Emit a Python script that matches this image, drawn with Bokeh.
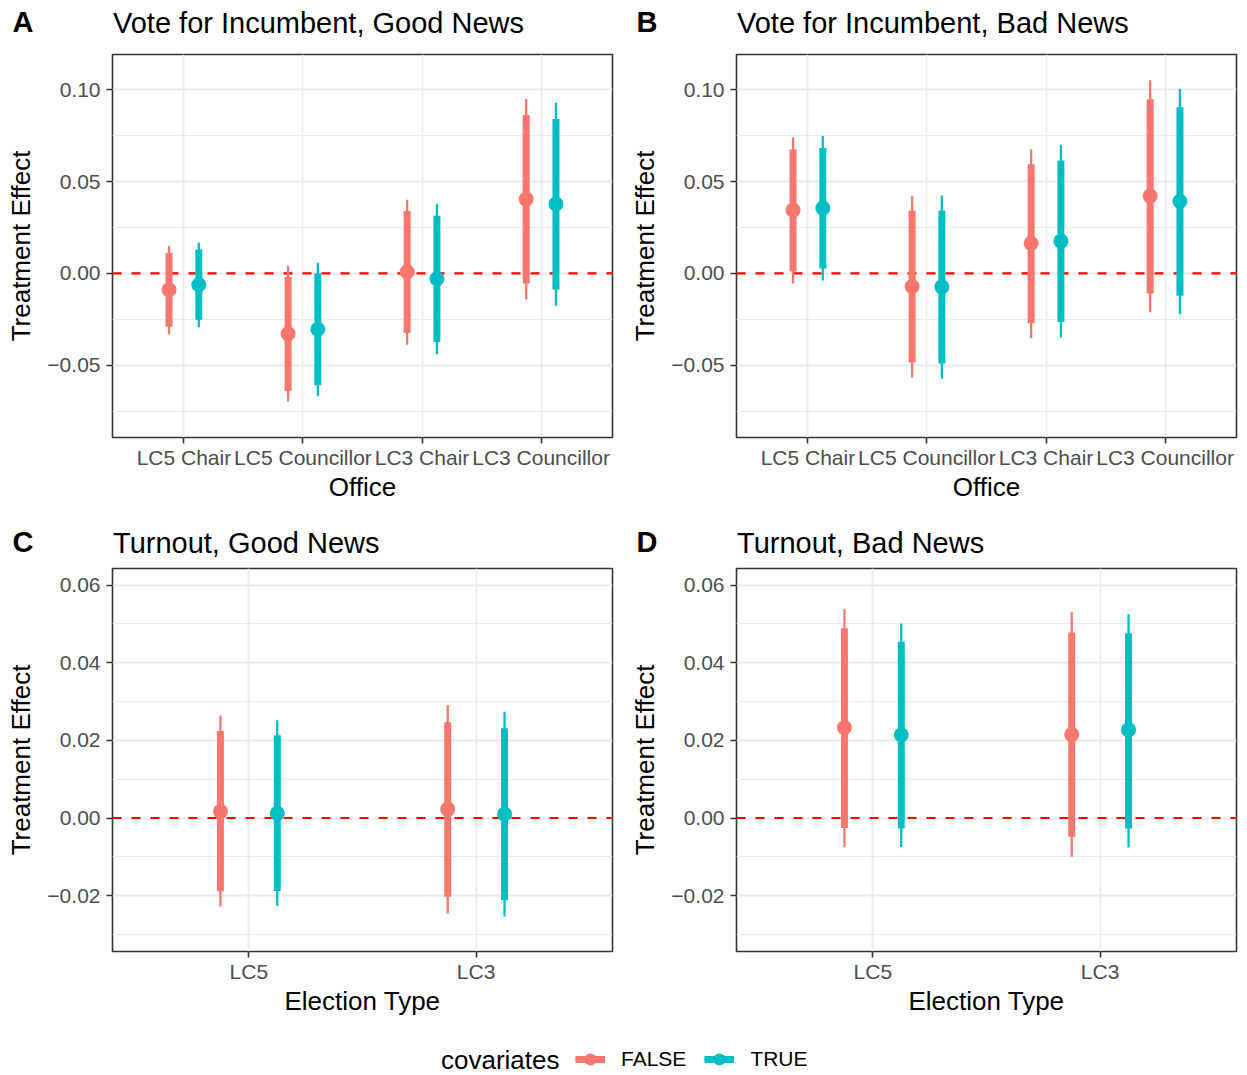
from bokeh.plotting import figure
from bokeh.models import (ColumnDataSource, Range1d, FixedTicker, Span, Label,
                          Legend, LegendItem, CustomJSTickFormatter)
from bokeh.layouts import column, row
from bokeh.transform import dodge
from bokeh.embed import file_html
from bokeh.resources import INLINE

FONT = "Liberation Sans"
COL_FALSE = "#F8766D"
COL_TRUE = "#00BFC4"

# ---------------- data ----------------
office = ["LC5 Chair", "LC5 Councillor", "LC3 Chair", "LC3 Councillor"]
election_type = ["LC5", "LC3"]
groups = ["FALSE", "TRUE"]
panel_letters = ["A", "B", "C", "D"]
panel_titles = ["Vote for Incumbent, Good News", "Vote for Incumbent, Bad News",
                "Turnout, Good News", "Turnout, Bad News"]

# Panel A: Vote for Incumbent, Good News
A_false_est = [-0.0089, -0.0329, 0.0009, 0.0405]
A_false_lo90 = [-0.0291, -0.0640, -0.0324, -0.0055]
A_false_hi90 = [0.0111, -0.0020, 0.0340, 0.0864]
A_false_lo95 = [-0.0331, -0.0698, -0.0389, -0.0142]
A_false_hi95 = [0.0149, 0.0040, 0.0402, 0.0951]
A_true_est = [-0.0062, -0.0304, -0.0029, 0.0378]
A_true_lo90 = [-0.0253, -0.0609, -0.0373, -0.0087]
A_true_hi90 = [0.0131, 0.0000, 0.0315, 0.0842]
A_true_lo95 = [-0.0293, -0.0669, -0.0440, -0.0176]
A_true_hi95 = [0.0169, 0.0058, 0.0378, 0.0931]

# Panel B: Vote for Incumbent, Bad News
B_false_est = [0.0345, -0.0071, 0.0164, 0.0422]
B_false_lo90 = [0.0011, -0.0485, -0.0271, -0.0109]
B_false_hi90 = [0.0676, 0.0342, 0.0595, 0.0949]
B_false_lo95 = [-0.0055, -0.0567, -0.0353, -0.0211]
B_false_hi95 = [0.0742, 0.0422, 0.0676, 0.1053]
B_true_est = [0.0356, -0.0073, 0.0176, 0.0393]
B_true_lo90 = [0.0027, -0.0491, -0.0264, -0.0122]
B_true_hi90 = [0.0684, 0.0342, 0.0616, 0.0905]
B_true_lo95 = [-0.0038, -0.0573, -0.0349, -0.0222]
B_true_hi95 = [0.0749, 0.0424, 0.0700, 0.1005]

# Panel C: Turnout, Good News
C_false_est = [0.0017, 0.0023]
C_false_lo90 = [-0.0189, -0.0203]
C_false_hi90 = [0.0224, 0.0247]
C_false_lo95 = [-0.0228, -0.0246]
C_false_hi95 = [0.0264, 0.0291]
C_true_est = [0.0012, 0.0010]
C_true_lo90 = [-0.0188, -0.0211]
C_true_hi90 = [0.0213, 0.0231]
C_true_lo95 = [-0.0227, -0.0254]
C_true_hi95 = [0.0252, 0.0274]

# Panel D: Turnout, Bad News
D_false_est = [0.0233, 0.0215]
D_false_lo90 = [-0.0026, -0.0048]
D_false_hi90 = [0.0489, 0.0478]
D_false_lo95 = [-0.0075, -0.0100]
D_false_hi95 = [0.0538, 0.0530]
D_true_est = [0.0214, 0.0227]
D_true_lo90 = [-0.0027, -0.0027]
D_true_hi90 = [0.0454, 0.0476]
D_true_lo95 = [-0.0075, -0.0076]
D_true_hi95 = [0.0501, 0.0525]

vote_yrange = (-0.0894, 0.1193)
vote_ticks = [-0.05, 0.0, 0.05, 0.10]
vote_minor = [-0.075, -0.025, 0.025, 0.075]
turn_yrange = (-0.0344, 0.0643)
turn_ticks = [-0.02, 0.0, 0.02, 0.04, 0.06]
turn_minor = [-0.03, -0.01, 0.01, 0.03, 0.05]

DODGE = 0.125
HEADER_H = 52
PANEL_H = 462
TOP = 2
BOTTOM = 77
FRAME_W = 500


def make_header(letters, titles, title_base, letter_base):
    h = figure(width=1247, height=HEADER_H, x_range=Range1d(0, 1247),
               y_range=Range1d(HEADER_H, 0), toolbar_location=None,
               output_backend="svg", min_border=0, x_axis_location=None,
               y_axis_location=None)
    h.outline_line_color = None
    h.xgrid.visible = False
    h.ygrid.visible = False
    for i, (lt, tt) in enumerate(zip(letters, titles)):
        x0 = 0 if i == 0 else 624
        h.add_layout(Label(x=x0 + 12, y=letter_base, text=lt, text_font=FONT,
                           text_font_size="29px", text_font_style="bold",
                           text_color="black", text_baseline="alphabetic",
                           text_align="left"))
        h.add_layout(Label(x=x0 + 112.5, y=title_base, text=tt, text_font=FONT,
                           text_font_size="29px", text_font_style="normal",
                           text_color="black", text_baseline="alphabetic",
                           text_align="left"))
    return h


def make_panel(cats, series, yr, yticks, yminor, xlabel, left_border, width):
    n = len(cats)
    p = figure(width=width, height=PANEL_H, x_range=Range1d(0.4, n + 0.6),
               y_range=Range1d(*yr), toolbar_location=None, output_backend="svg",
               min_border_left=left_border, min_border_right=width - left_border - FRAME_W,
               min_border_top=TOP, min_border_bottom=BOTTOM)
    p.background_fill_color = "white"
    p.border_fill_color = "white"
    p.outline_line_color = "#333333"
    p.outline_line_width = 1.6

    p.xaxis.ticker = FixedTicker(ticks=list(range(1, n + 1)), minor_ticks=[])
    p.xaxis.major_label_overrides = {i + 1: c for i, c in enumerate(cats)}
    p.yaxis.ticker = FixedTicker(ticks=yticks, minor_ticks=yminor)
    p.yaxis.formatter = CustomJSTickFormatter(
        code="return (tick < -1e-12 ? '\\u2212' : '') + Math.abs(tick).toFixed(2);")
    for ax in (p.xaxis[0], p.yaxis[0]):
        ax.axis_line_color = None
        ax.major_tick_line_color = "#333333"
        ax.major_tick_line_width = 1.6
        ax.major_tick_out = 6
        ax.major_tick_in = 0
        ax.minor_tick_line_color = None
        ax.major_label_text_font = FONT
        ax.major_label_text_font_size = "21px"
        ax.major_label_text_color = "#4D4D4D"
        ax.axis_label_text_font = FONT
        ax.axis_label_text_font_size = "26px"
        ax.axis_label_text_font_style = "normal"
        ax.axis_label_text_color = "black"
    p.xaxis.axis_label = xlabel
    p.yaxis.axis_label = "Treatment Effect"
    p.xaxis.major_label_standoff = 2
    p.yaxis.major_label_standoff = 6
    p.xaxis.axis_label_standoff = 0
    p.yaxis.axis_label_standoff = 8

    p.xgrid.grid_line_color = "#EBEBEB"
    p.xgrid.grid_line_width = 1.8
    p.ygrid.grid_line_color = "#EBEBEB"
    p.ygrid.grid_line_width = 1.8
    p.ygrid.minor_grid_line_color = "#EBEBEB"
    p.ygrid.minor_grid_line_width = 1.0

    p.add_layout(Span(location=0, dimension="width", line_color="red",
                      line_width=2.2, line_dash="9 10", level="underlay"))

    srcs = []
    for color, off, est, lo90, hi90, lo95, hi95 in series:
        src = ColumnDataSource(dict(xi=list(range(1, n + 1)), est=est, lo90=lo90,
                                    hi90=hi90, lo95=lo95, hi95=hi95))
        srcs.append((src, color, off))
    for src, color, off in srcs:
        p.segment(x0=dodge("xi", off), y0="lo95", x1=dodge("xi", off), y1="hi95",
                  line_color=color, line_width=2.3, source=src)
    for src, color, off in srcs:
        p.segment(x0=dodge("xi", off), y0="lo90", x1=dodge("xi", off), y1="hi90",
                  line_color=color, line_width=7, source=src)
        p.scatter(x=dodge("xi", off), y="est", size=15, fill_color=color,
                  line_color=None, source=src)
    return p


hdr1 = make_header(panel_letters[:2], panel_titles[:2], 22, 21)
hdr2 = make_header(panel_letters[2:], panel_titles[2:], 28, 27)

pA = make_panel(office,
                [(COL_FALSE, -DODGE, A_false_est, A_false_lo90, A_false_hi90, A_false_lo95, A_false_hi95),
                 (COL_TRUE, DODGE, A_true_est, A_true_lo90, A_true_hi90, A_true_lo95, A_true_hi95)],
                vote_yrange, vote_ticks, vote_minor, "Office", 112, 623)
pB = make_panel(office,
                [(COL_FALSE, -DODGE, B_false_est, B_false_lo90, B_false_hi90, B_false_lo95, B_false_hi95),
                 (COL_TRUE, DODGE, B_true_est, B_true_lo90, B_true_hi90, B_true_lo95, B_true_hi95)],
                vote_yrange, vote_ticks, vote_minor, "Office", 113, 624)
pC = make_panel(election_type,
                [(COL_FALSE, -DODGE, C_false_est, C_false_lo90, C_false_hi90, C_false_lo95, C_false_hi95),
                 (COL_TRUE, DODGE, C_true_est, C_true_lo90, C_true_hi90, C_true_lo95, C_true_hi95)],
                turn_yrange, turn_ticks, turn_minor, "Election Type", 112, 623)
pD = make_panel(election_type,
                [(COL_FALSE, -DODGE, D_false_est, D_false_lo90, D_false_hi90, D_false_lo95, D_false_hi95),
                 (COL_TRUE, DODGE, D_true_est, D_true_lo90, D_true_hi90, D_true_lo95, D_true_hi95)],
                turn_yrange, turn_ticks, turn_minor, "Election Type", 113, 624)

# ---------------- legend ----------------
LEG_H = 47
lf = figure(width=1247, height=LEG_H, x_range=Range1d(0, 1247), y_range=Range1d(LEG_H, 0),
            toolbar_location=None, output_backend="svg", min_border=0,
            x_axis_location=None, y_axis_location=None)
lf.outline_line_color = None
lf.xgrid.visible = False
lf.ygrid.visible = False
items = []
for name, color, est, lo, hi in zip(groups, [COL_FALSE, COL_TRUE],
                                    [A_false_est, A_true_est],
                                    [A_false_lo90, A_true_lo90],
                                    [A_false_hi90, A_true_hi90]):
    key_src = ColumnDataSource(dict(xi=[1], est=est[:1], lo=lo[:1], hi=hi[:1]))
    r0 = lf.vspan(x="xi", line_color=color, line_width=2.3, source=key_src,
                  visible=False)
    r1 = lf.segment(x0="xi", y0="lo", x1="xi", y1="hi", line_color=color,
                    line_width=7, source=key_src, visible=False)
    r2 = lf.scatter(x="xi", y="est", size=15, fill_color=color, line_color=None,
                    source=key_src, visible=False)
    items.append(LegendItem(label=name, renderers=[r0, r1, r2]))
legend = Legend(items=items, orientation="horizontal", location=(575, 1),
                glyph_width=30, glyph_height=30, label_standoff=16, spacing=18,
                padding=0, margin=0, inactive_fill_alpha=0,
                border_line_color=None, background_fill_alpha=0,
                label_text_font=FONT, label_text_font_size="21px",
                label_text_color="black")
lf.add_layout(legend, "center")
lf.add_layout(Label(x=440.5, y=31, text="covariates", text_font=FONT,
                    text_font_size="26px", text_color="black",
                    text_baseline="middle", text_align="left"))

layout = column(hdr1, row(pA, pB), hdr2, row(pC, pD), lf)
open("out.html", "w").write(file_html(layout, INLINE))
